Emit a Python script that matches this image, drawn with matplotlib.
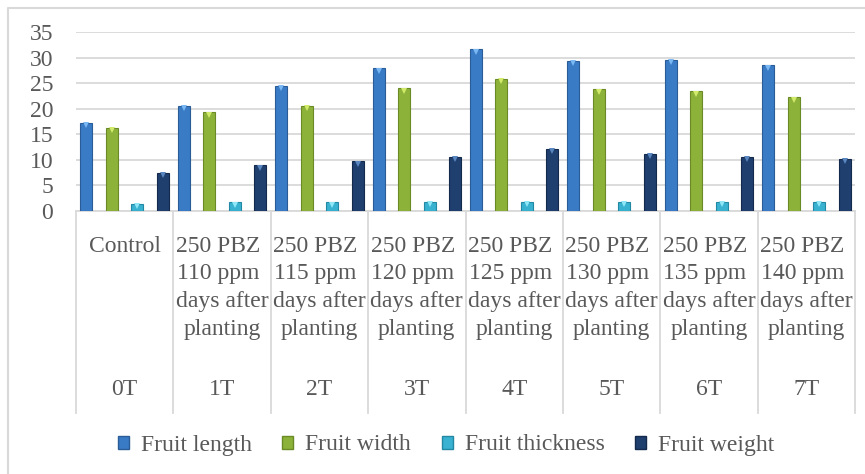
import numpy as np
import matplotlib
matplotlib.use("Agg")
import matplotlib.pyplot as plt
import matplotlib.transforms as mtransforms
from matplotlib.patches import Patch
from matplotlib.lines import Line2D

# data
codes = ["0T", "1T", "2T", "3T", "4T", "5T", "6T", "7T"]
treatments = ["Control", "110 ppm", "115 ppm", "120 ppm",
              "125 ppm", "130 ppm", "135 ppm", "140 ppm"]
series = ["Fruit length", "Fruit width", "Fruit thickness", "Fruit weight"]
fruit_length = [17.3, 20.6, 24.5, 27.9, 31.6, 29.4, 29.6, 28.5]
fruit_width = [16.3, 19.3, 20.6, 24.0, 25.9, 23.8, 23.4, 22.2]
fruit_thickness = [1.4, 1.7, 1.7, 1.8, 1.8, 1.8, 1.8, 1.8]
fruit_weight = [7.5, 8.9, 9.7, 10.6, 12.2, 11.2, 10.6, 10.2]

colors = ["#3a7bc6", "#8db23a", "#38b2d0", "#1f3f6e"]
edges = ["#2a5d98", "#6a8a26", "#2288a4", "#142a4c"]
caps = ["#7ab8f4", "#d2ea6a", "#8ee6f6", "#5a86c0"]
text_col = "#595959"
grid_col = "#d9d9d9"

plt.rcParams["font.family"] = ["Liberation Serif", "DejaVu Serif"]
FS = 17

W, H = 865, 474
fig = plt.figure(figsize=(W / 100, H / 100), dpi=100)
ax_l, ax_r, ax_t, ax_b = 76, 855, 32, 211
ax = fig.add_axes([ax_l / W, 1 - ax_b / H, (ax_r - ax_l) / W, (ax_b - ax_t) / H])

x = np.arange(len(codes))
step = 0.262
width = 0.123
values = [fruit_length, fruit_width, fruit_thickness, fruit_weight]
for i, vals in enumerate(values):
    pos = x + (i - 1.5) * step
    ax.bar(pos, vals, width, color=colors[i], edgecolor=edges[i],
           linewidth=0.8, zorder=3)
    ax.plot(pos, np.array(vals) - 0.45, linestyle="none", marker="v",
            markersize=5, color=caps[i], markeredgewidth=0, zorder=4)

ax.set_xlim(-0.5, len(codes) - 0.5)
ax.set_ylim(0, 35)
ax.set_yticks(range(0, 36, 5))
ax.tick_params(axis="y", length=0, pad=16.5, labelsize=FS, labelcolor=text_col)
ax.set_xticks([])
ax.grid(axis="y", color=grid_col, linewidth=1.3, zorder=0)
for s in ["top", "right", "left"]:
    ax.spines[s].set_visible(False)
ax.spines["bottom"].set_color(grid_col)
ax.spines["bottom"].set_linewidth(1.3)

# multi-level category axis
tr = ax.get_xaxis_transform()
tr_left = tr + mtransforms.ScaledTranslation(-4 / 100, 0, fig.dpi_scale_trans)
ph = ax_b - ax_t


def ay(py):
    return -(py - ax_b) / ph


for k in range(len(codes) + 1):
    ax.plot([k - 0.5, k - 0.5], [0, ay(413)], color=grid_col, lw=1.3,
            transform=tr, clip_on=False)
line_y = [246.7, 274, 301.7, 329.3]
for k in range(len(codes)):
    if k == 0:
        lines = [treatments[k]]
    else:
        lines = ["250 PBZ", treatments[k], "days after", "planting"]
    for j, t in enumerate(lines):
        t_tr = tr_left if (k > 0 and j < 2) else tr
        ax.text(k, ay(line_y[j]), t, transform=t_tr, ha="center", va="center",
                fontsize=FS, color=text_col)
    ax.text(k, ay(390), codes[k], transform=tr, ha="center", va="center",
            fontsize=FS, color=text_col)

handles = [Patch(facecolor=colors[i], edgecolor=edges[i]) for i in range(4)]
leg = fig.legend(handles, series, loc="center", ncol=4,
                 bbox_to_anchor=(446 / W, 1 - 445 / H), frameon=False,
                 fontsize=FS, handlelength=0.47, handleheight=0.47,
                 handletextpad=0.5, columnspacing=1.3)
for t in leg.get_texts():
    t.set_color(text_col)

# chart area border (top and left visible)
fig.add_artist(Line2D([8 / W, 8 / W, 1], [0, 1 - 8 / H, 1 - 8 / H],
                      transform=fig.transFigure, color=grid_col, lw=1.5))

fig.savefig("out.png", dpi=100)
